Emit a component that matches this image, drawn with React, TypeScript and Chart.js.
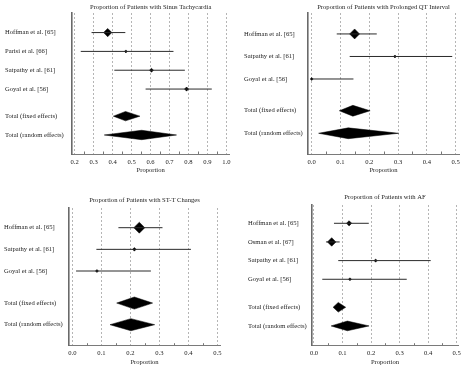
import React, { useEffect, useRef } from 'react';
import { Chart, registerables } from 'chart.js';

Chart.register(...registerables);

// ---------- DATA ----------
// Panel 1: Sinus Tachycardia
const p1Title = 'Proportion of Patients with Sinus Tachycardia';
const p1Studies = ['Hoffman et al. [65]', 'Parisi et al. [66]', 'Satpathy et al. [61]', 'Goyal et al. [56]'];
const p1Est = [0.374, 0.47, 0.605, 0.79];
const p1Lo = [0.289, 0.232, 0.409, 0.574];
const p1Hi = [0.467, 0.721, 0.781, 0.923];
const p1Weights = [48, 6, 11, 12];
const p1Fixed = [0.404, 0.468, 0.544];
const p1Random = [0.356, 0.553, 0.737];
const p1Ticks = [0.2, 0.3, 0.4, 0.5, 0.6, 0.7, 0.8, 0.9, 1.0];

// Panel 2: Prolonged QT Interval
const p2Title = 'Proportion of Patients with Prolonged QT Interval';
const p2Studies = ['Hoffman et al. [65]', 'Satpathy et al. [61]', 'Goyal et al. [56]'];
const p2Est = [0.149, 0.289, 0.0];
const p2Lo = [0.087, 0.132, 0.0];
const p2Hi = [0.226, 0.488, 0.145];
const p2Weights = [69, 6, 6];
const p2Fixed = [0.096, 0.143, 0.203];
const p2Random = [0.024, 0.127, 0.302];
const p2Ticks = [0.0, 0.1, 0.2, 0.3, 0.4, 0.5];

// Panel 3: ST-T Changes
const p3Title = 'Proportion of Patients with ST-T Changes';
const p3Studies = ['Hoffman et al. [65]', 'Satpathy et al. [61]', 'Goyal et al. [56]'];
const p3Est = [0.231, 0.214, 0.085];
const p3Lo = [0.159, 0.083, 0.013];
const p3Hi = [0.311, 0.409, 0.271];
const p3Weights = [84, 9, 6];
const p3Fixed = [0.153, 0.214, 0.277];
const p3Random = [0.13, 0.202, 0.284];
const p3Ticks = [0.0, 0.1, 0.2, 0.3, 0.4, 0.5];

// Panel 4: AF
const p4Title = 'Proportion of Patients with AF';
const p4Studies = ['Hoffman et al. [65]', 'Osman et al. [67]', 'Satpathy et al. [61]', 'Goyal et al. [56]'];
const p4Est = [0.123, 0.062, 0.216, 0.126];
const p4Lo = [0.07, 0.042, 0.085, 0.029];
const p4Hi = [0.192, 0.09, 0.409, 0.325];
const p4Weights = [19, 51, 7, 5];
const p4Fixed = [0.067, 0.085, 0.111];
const p4Random = [0.06, 0.117, 0.193];
const p4Ticks = [0.0, 0.1, 0.2, 0.3, 0.4, 0.5];

const totalLabels = ['Total (fixed effects)', 'Total (random effects)'];

// ---------- STYLE / LAYOUT ----------
const FONT = { family: "'Liberation Serif', 'Times New Roman', 'DejaVu Serif', serif", size: 6.6 };
const TEXT = '#222';

type PanelCfg = {
  title: string; studies: string[]; est: number[]; lo: number[]; hi: number[]; weights: number[];
  fixed: number[]; random: number[]; ticks: number[];
  left: number; top: number; w: number; h: number;
  padL: number; padR: number; yW: number; topH: number; titlePadTop: number; xH: number; xPadB: number;
  xMin: number; xMax: number; yMin: number; yMax: number; gap: number; dh: number;
};

const panels: PanelCfg[] = [
  { title: p1Title, studies: p1Studies, est: p1Est, lo: p1Lo, hi: p1Hi, weights: p1Weights, fixed: p1Fixed, random: p1Random, ticks: p1Ticks,
    left: 0, top: 0, w: 234, h: 180, padL: 5, padR: 4, yW: 67, topH: 13, titlePadTop: 3, xH: 26, xPadB: 6,
    xMin: 0.1858, xMax: 1.0156, yMin: -1.04, yMax: 6.45, gap: 1.44, dh: 0.25 },
  { title: p2Title, studies: p2Studies, est: p2Est, lo: p2Lo, hi: p2Hi, weights: p2Weights, fixed: p2Fixed, random: p2Random, ticks: p2Ticks,
    left: 234, top: 0, w: 234, h: 180, padL: 10, padR: 9, yW: 64, topH: 13, titlePadTop: 3, xH: 26, xPadB: 6,
    xMin: -0.0128, xMax: 0.5115, yMin: -0.93, yMax: 5.33, gap: 1.41, dh: 0.24 },
  { title: p3Title, studies: p3Studies, est: p3Est, lo: p3Lo, hi: p3Hi, weights: p3Weights, fixed: p3Fixed, random: p3Random, ticks: p3Ticks,
    left: 0, top: 180, w: 234, h: 191, padL: 4, padR: 14, yW: 65, topH: 28, titlePadTop: 16.7, xH: 25.3, xPadB: 4.7,
    xMin: -0.0114, xMax: 0.5093, yMin: -0.91, yMax: 5.45, gap: 1.48, dh: 0.28 },
  { title: p4Title, studies: p4Studies, est: p4Est, lo: p4Lo, hi: p4Hi, weights: p4Weights, fixed: p4Fixed, random: p4Random, ticks: p4Ticks,
    left: 234, top: 180, w: 234, h: 191, padL: 14, padR: 10, yW: 64, topH: 25, titlePadTop: 13.3, xH: 25.3, xPadB: 4.7,
    xMin: -0.007, xMax: 0.5046, yMin: -0.98, yMax: 6.56, gap: 1.5, dh: 0.26 },
];

const minorTicks = {
  id: 'minorTicks',
  afterDraw(chart: any) {
    const s = chart.scales.x;
    const ctx = chart.ctx;
    const vals = s.ticks.map((t: any) => t.value);
    ctx.save();
    ctx.strokeStyle = '#777';
    ctx.lineWidth = 1;
    for (let i = 0; i < vals.length - 1; i++) {
      const m = (vals[i] + vals[i + 1]) / 2;
      const px = Math.round(s.getPixelForValue(m)) + 0.5;
      ctx.beginPath();
      ctx.moveTo(px, s.top);
      ctx.lineTo(px, s.top - 2.5);
      ctx.stroke();
    }
    ctx.restore();
  },
};

function diamond(v: number[], row: number, dh: number) {
  return [
    { x: v[0], y: row },
    { x: v[1], y: row - dh },
    { x: v[2], y: row },
    { x: v[1], y: row + dh },
    { x: v[0], y: row },
  ];
}

function Panel({ cfg }: { cfg: PanelCfg }) {
  const ref = useRef<HTMLCanvasElement | null>(null);
  useEffect(() => {
    if (!ref.current) return;
    const n = cfg.studies.length;
    const fixedRow = n - 1 + cfg.gap;
    const randomRow = fixedRow + 1;
    const rowPos = [...cfg.studies.map((_, i) => i), fixedRow, randomRow];
    const labels = [...cfg.studies, ...totalLabels];

    const datasets: any[] = [];
    cfg.studies.forEach((_, i) => {
      datasets.push({
        data: [{ x: cfg.lo[i], y: i }, { x: cfg.hi[i], y: i }],
        showLine: true, borderColor: '#2a2a2a', borderWidth: 1, pointRadius: 0,
      });
    });
    datasets.push({
      data: cfg.est.map((x, i) => ({ x, y: i })),
      showLine: false, pointStyle: 'rectRot',
      pointRadius: cfg.weights.map((w) => Math.max(1.5, 0.6 * Math.sqrt(w))),
      backgroundColor: '#000', borderColor: '#000', borderWidth: 0.5,
    });
    [cfg.fixed, cfg.random].forEach((v, k) => {
      datasets.push({
        data: diamond(v, k === 0 ? fixedRow : randomRow, cfg.dh),
        showLine: true, fill: 'shape', tension: 0,
        backgroundColor: '#000', borderColor: '#000', borderWidth: 0.5, pointRadius: 0,
      });
    });

    const chart = new Chart(ref.current, {
      type: 'scatter',
      data: { datasets },
      plugins: [minorTicks],
      options: {
        animation: false,
        responsive: false,
        events: [],
        layout: { padding: { left: cfg.padL, right: cfg.padR, top: 0, bottom: 0 } },
        plugins: { legend: { display: false }, tooltip: { enabled: false }, title: { display: false } },
        scales: {
          x: {
            type: 'linear', min: cfg.xMin, max: cfg.xMax,
            afterBuildTicks: (s: any) => { s.ticks = cfg.ticks.map((v) => ({ value: v })); },
            afterFit: (s: any) => { s.height = cfg.xH; },
            grid: { display: true, color: '#b5b5b5', lineWidth: 1, drawTicks: true, tickLength: 4, tickColor: 'rgba(0,0,0,0)' },
            border: { display: true, color: '#7a7a7a', width: 1, dash: [2, 2] },
            ticks: { padding: 0, font: FONT, color: TEXT, autoSkip: false, maxRotation: 0, callback: (v: any) => Number(v).toFixed(1) },
            title: { display: true, text: 'Proportion', font: FONT, color: TEXT, padding: { top: 0, bottom: cfg.xPadB } },
          },
          x2: {
            type: 'linear', axis: 'x', position: 'top', min: 0, max: 1, display: true,
            grid: { display: false, drawTicks: false },
            border: { display: false },
            ticks: { display: false },
            title: { display: true, text: cfg.title, font: FONT, color: TEXT, padding: { top: cfg.titlePadTop, bottom: 0 } },
            afterFit: (s: any) => { s.height = cfg.topH; },
          },
          y: {
            type: 'linear', reverse: true, min: cfg.yMin, max: cfg.yMax,
            afterBuildTicks: (s: any) => { s.ticks = rowPos.map((v) => ({ value: v })); },
            afterFit: (s: any) => { s.width = cfg.yW; },
            grid: { display: true, color: 'rgba(0,0,0,0)', drawTicks: false },
            border: { display: true, color: '#6a6a6a', width: 1.6 },
            ticks: { padding: 0, crossAlign: 'far', autoSkip: false, font: FONT, color: TEXT, callback: (_v: any, i: number) => labels[i] },
          },
        },
      } as any,
    });
    return () => chart.destroy();
  }, [cfg]);
  return (
    <canvas
      ref={ref}
      width={cfg.w}
      height={cfg.h}
      style={{ position: 'absolute', left: cfg.left, top: cfg.top, width: cfg.w, height: cfg.h }}
    />
  );
}

export default function App() {
  return (
    <div style={{ position: 'absolute', left: 0, top: 0, width: 468, height: 371, background: '#fff' }}>
      {panels.map((p, i) => (
        <Panel key={i} cfg={p} />
      ))}
    </div>
  );
}
